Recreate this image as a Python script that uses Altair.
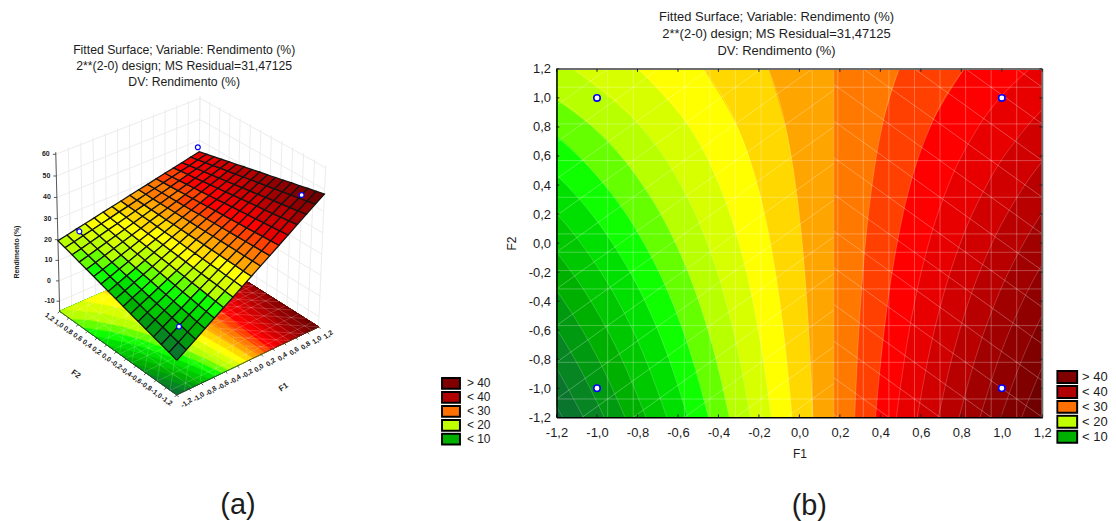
import numpy as np
import pandas as pd
import altair as alt

# ---- values ----
F_TICKS = [-1.2, -1.0, -0.8, -0.6, -0.4, -0.2, 0.0, 0.2, 0.4, 0.6, 0.8, 1.0, 1.2]
Z_TICKS = [-10, 0, 10, 20, 30, 40, 50, 60]
LEGEND_LABELS = ["> 40", "< 40", "< 30", "< 20", "< 10"]
LEGEND_COLORS = ["#800000", "#b00000", "#ff7000", "#c0ff00", "#00b000"]
TITLE_LINES = ["Fitted Surface; Variable: Rendimento (%)", "2**(2-0) design; MS Residual=31,47125", "DV: Rendimento (%)"]

# F1 position of each contour line at these F2 values
F2_GRID = [-1.2, -0.8, -0.4, 0.0, 0.4, 0.8, 1.2]
CONTOURS = [
    [-1.170, -1.342, -1.563, -1.862, -2.283, -2.925, -4.024],
    [-1.067, -1.226, -1.430, -1.706, -2.094, -2.687, -3.701],
    [-0.964, -1.109, -1.296, -1.549, -1.906, -2.449, -3.379],
    [-0.861, -0.993, -1.163, -1.393, -1.717, -2.211, -3.056],
    [-0.758, -0.877, -1.030, -1.237, -1.528, -1.973, -2.733],
    [-0.655, -0.760, -0.896, -1.080, -1.340, -1.735, -2.411],
    [-0.552, -0.644, -0.763, -0.924, -1.151, -1.497, -2.088],
    [-0.449, -0.528, -0.630, -0.768, -0.962, -1.259, -1.766],
    [-0.346, -0.412, -0.497, -0.612, -0.774, -1.021, -1.443],
    [-0.242, -0.295, -0.363, -0.455, -0.585, -0.782, -1.120],
    [-0.139, -0.179, -0.230, -0.299, -0.396, -0.544, -0.798],
    [-0.036, -0.063, -0.097, -0.143, -0.207, -0.306, -0.475],
    [0.067, 0.054, 0.037, 0.014, -0.019, -0.068, -0.153],
    [0.170, 0.170, 0.170, 0.170, 0.170, 0.170, 0.170],
    [0.273, 0.286, 0.303, 0.326, 0.359, 0.408, 0.493],
    [0.376, 0.403, 0.437, 0.483, 0.547, 0.646, 0.815],
    [0.479, 0.519, 0.570, 0.639, 0.736, 0.884, 1.138],
    [0.582, 0.635, 0.703, 0.795, 0.925, 1.122, 1.460],
    [0.686, 0.752, 0.837, 0.952, 1.114, 1.361, 1.783],
    [0.789, 0.868, 0.970, 1.108, 1.302, 1.599, 2.106],
    [0.892, 0.984, 1.103, 1.264, 1.491, 1.837, 2.428],
    [0.995, 1.100, 1.236, 1.420, 1.680, 2.075, 2.751],
    [1.098, 1.217, 1.370, 1.577, 1.868, 2.313, 3.073],
    [1.201, 1.333, 1.503, 1.733, 2.057, 2.551, 3.396],
]
BAND_COLORS = ["#0a6838", "#0a752c", "#068522", "#009a10", "#00b000", "#00c800", "#00e000", "#10ff00",
               "#66ff00", "#b8ff00", "#d8ff00", "#ffff00", "#ffd800", "#ffa500", "#ff7800", "#ff4000",
               "#ff0000", "#e80000", "#d00000", "#b80000", "#a00000", "#900000", "#800000", "#700000", "#600000"]

# surface heights, rows F2 = -1.2 ... 1.2, columns F1 = -1.2 ... 1.2, step 0.15
SURF_F = [-1.2, -1.05, -0.9, -0.75, -0.6, -0.45, -0.3, -0.15, 0.0, 0.15, 0.3, 0.45, 0.6, 0.75, 0.9, 1.05, 1.2]
SURFACE = [
    [1.4, 4.3, 7.2, 10.2, 13.1, 16.0, 18.9, 21.8, 24.7, 27.6, 30.5, 33.4, 36.3, 39.3, 42.2, 45.1, 48.0],
    [2.6, 5.3, 8.1, 10.9, 13.7, 16.5, 19.3, 22.1, 24.8, 27.6, 30.4, 33.2, 36.0, 38.8, 41.6, 44.3, 47.1],
    [3.7, 6.3, 9.0, 11.7, 14.3, 17.0, 19.7, 22.3, 25.0, 27.6, 30.3, 33.0, 35.6, 38.3, 41.0, 43.6, 46.3],
    [4.8, 7.4, 9.9, 12.4, 15.0, 17.5, 20.0, 22.6, 25.1, 27.7, 30.2, 32.7, 35.3, 37.8, 40.4, 42.9, 45.4],
    [5.9, 8.4, 10.8, 13.2, 15.6, 18.0, 20.4, 22.8, 25.3, 27.7, 30.1, 32.5, 34.9, 37.3, 39.8, 42.2, 44.6],
    [7.1, 9.4, 11.6, 13.9, 16.2, 18.5, 20.8, 23.1, 25.4, 27.7, 30.0, 32.3, 34.6, 36.9, 39.2, 41.4, 43.7],
    [8.2, 10.4, 12.5, 14.7, 16.9, 19.0, 21.2, 23.4, 25.5, 27.7, 29.9, 32.0, 34.2, 36.4, 38.5, 40.7, 42.9],
    [9.3, 11.4, 13.4, 15.5, 17.5, 19.6, 21.6, 23.6, 25.7, 27.7, 29.8, 31.8, 33.9, 35.9, 37.9, 40.0, 42.0],
    [10.5, 12.4, 14.3, 16.2, 18.1, 20.1, 22.0, 23.9, 25.8, 27.7, 29.7, 31.6, 33.5, 35.4, 37.3, 39.3, 41.2],
    [11.6, 13.4, 15.2, 17.0, 18.8, 20.6, 22.4, 24.2, 26.0, 27.8, 29.6, 31.4, 33.1, 34.9, 36.7, 38.5, 40.3],
    [12.7, 14.4, 16.1, 17.7, 19.4, 21.1, 22.8, 24.4, 26.1, 27.8, 29.4, 31.1, 32.8, 34.5, 36.1, 37.8, 39.5],
    [13.9, 15.4, 16.9, 18.5, 20.0, 21.6, 23.1, 24.7, 26.2, 27.8, 29.3, 30.9, 32.4, 34.0, 35.5, 37.1, 38.6],
    [15.0, 16.4, 17.8, 19.3, 20.7, 22.1, 23.5, 25.0, 26.4, 27.8, 29.2, 30.7, 32.1, 33.5, 34.9, 36.4, 37.8],
    [16.1, 17.4, 18.7, 20.0, 21.3, 22.6, 23.9, 25.2, 26.5, 27.8, 29.1, 30.4, 31.7, 33.0, 34.3, 35.6, 36.9],
    [17.3, 18.4, 19.6, 20.8, 22.0, 23.1, 24.3, 25.5, 26.7, 27.8, 29.0, 30.2, 31.4, 32.6, 33.7, 34.9, 36.1],
    [18.4, 19.4, 20.5, 21.5, 22.6, 23.6, 24.7, 25.7, 26.8, 27.9, 28.9, 30.0, 31.0, 32.1, 33.1, 34.2, 35.2],
    [19.5, 20.4, 21.4, 22.3, 23.2, 24.2, 25.1, 26.0, 27.0, 27.9, 28.8, 29.8, 30.7, 31.6, 32.5, 33.5, 34.4],
]
# design points: F1, F2, response
POINT_F1 = [-1.0, 1.0, -1.0, 1.0]
POINT_F2 = [-1.0, -1.0, 1.0, 1.0]
POINT_Z = [11.1, 47.0, 24.5, 41.5]

# white mesh of the contour plot
MESH_STEP = 2.4 / 19
MESH_V = [2, 3, 5, 6, 7, 8, 10, 11, 12, 13, 14, 15, 16, 17, 18]
MESH_H = [1, 3, 5, 7, 9, 10, 11, 12, 14, 16, 18]
MESH_C = list(range(-12, 13))
SADDLE = 0.17

# camera of the 3D view: cube/surface corners (F1, F2, z) and where they appear on the page
CAMERA = [
    (-1.2, -1.2, -15, 176, 399), (1.2, -1.2, -15, 318, 327), (-1.2, 1.2, -15, 61, 313), (1.2, 1.2, -15, 197, 252),
    (-1.2, 1.2, 61, 53, 154), (1.2, -1.2, 61, 327, 167), (1.2, 1.2, 61, 201, 97),
    (-1.2, -1.2, 1.4, 177, 357), (1.2, -1.2, 48, 325, 192), (-1.2, 1.2, 19.5, 57, 237), (1.2, 1.2, 34.4, 199, 148),
]
ZMIN, ZMAX = -15, 61

A, b = [], []
for f1, f2, z, px, py in CAMERA:
    A.append([f1, f2, z, 1, 0, 0, 0, 0, -px * f1, -px * f2, -px * z]); b.append(px)
    A.append([0, 0, 0, 0, f1, f2, z, 1, -py * f1, -py * f2, -py * z]); b.append(py)
P = np.linalg.lstsq(np.array(A, float), np.array(b, float), rcond=None)[0]


def proj(f1, f2, z):
    w = P[8] * f1 + P[9] * f2 + P[10] * z + 1
    return (P[0] * f1 + P[1] * f2 + P[2] * z + P[3]) / w, (P[4] * f1 + P[5] * f2 + P[6] * z + P[7]) / w


def clip_f1(poly, lim, keep_greater):
    out = []
    inside = lambda p: p[0] >= lim if keep_greater else p[0] <= lim
    for i, p in enumerate(poly):
        q = poly[(i + 1) % len(poly)]
        if inside(p):
            out.append(p)
        if inside(p) != inside(q):
            t = (lim - p[0]) / (q[0] - p[0])
            out.append((lim, p[1] + t * (q[1] - p[1])))
    return out


def band_color(z):
    return BAND_COLORS[int(np.clip(np.floor((z - 28) / 2) + 14, 0, 24))]


# mesh segments in (F1, F2)
mesh = []
for n in MESH_V:
    v = -1.2 + n * MESH_STEP
    mesh.append((v, -1.2, v, 1.2))
for m in MESH_H:
    v = 1.2 - m * MESH_STEP
    mesh.append((-1.2, v, 1.2, v))
for c in MESH_C:
    cc = (2 * c + 1) * MESH_STEP
    a = max(-1.2, -1.2 - cc)
    e = min(SADDLE, 1.2 - cc)
    if e > a:
        mesh.append((a, a + cc, e, e + cc))
    cf = 2 * c * MESH_STEP
    a = max(SADDLE, cf - 1.2)
    e = min(1.2, cf + 1.2)
    if e > a:
        mesh.append((a, cf - a, e, cf - e))
mesh_df = pd.DataFrame(mesh, columns=["F1", "F2", "F1e", "F2e"])

SX = alt.Scale(domain=[-1.2, 1.2], nice=False, zero=False)
SY = alt.Scale(domain=[-1.2, 1.2], nice=False, zero=False)
PX = alt.Scale(domain=[8, 508], nice=False, zero=False)
PY = alt.Scale(domain=[418, 68], nice=False, zero=False)

FONT = "Liberation Sans"
TXT = "#1c1c1c"
LABEL_EXPR = "replace(replace(format(datum.value,'.1f'),'.',','),'\u2212','-')"


def make_axis(title, label_pad, title_pad):
    return alt.Axis(values=F_TICKS, labelExpr=LABEL_EXPR, title=title, grid=False, tickSize=0, labelFontSize=13,
                    labelFont=FONT, labelColor=TXT, titleFont=FONT, titleFontSize=12, titleFontWeight="normal",
                    titleColor=TXT, labelPadding=label_pad, titlePadding=title_pad, domainColor="black", domainWidth=1.5,
                    labelFlush=False, labelOverlap=False, zindex=1)


AX = make_axis("F1", 9, 9)
AY = make_axis("F2", 6, 10)


def fx():
    return alt.X("F1:Q", scale=SX, axis=AX, stack=None)


def fy():
    return alt.Y("F2:Q", scale=SY, axis=AY)


# ---------- right panel: contour plot ----------
area_rows = [{"b": 0, "F1": -1.2, "F2": f2, "end": 1.2} for f2 in F2_GRID]
line_rows = []
for i, row in enumerate(CONTOURS):
    for f2, f1 in zip(F2_GRID, row):
        area_rows.append({"b": i + 1, "F1": f1, "F2": f2, "end": 1.2})
        line_rows.append({"b": i + 1, "F1": f1, "F2": f2})
area_df = pd.DataFrame(area_rows)
area_df["c"] = [BAND_COLORS[v] for v in area_df["b"]]
bands = alt.Chart(area_df).mark_area(interpolate="monotone", orient="horizontal", clip=True).encode(
    x=fx(), x2="end:Q", y=fy(), fill=alt.Fill("c:N", scale=None), detail="b:N")
contour_lines = alt.Chart(pd.DataFrame(line_rows)).mark_line(
    interpolate="monotone", clip=True, stroke="white", strokeOpacity=0.2, strokeWidth=1).encode(
    x=fx(), y=fy(), detail="b:N", order=alt.Order("F2:Q"))
mesh_right = alt.Chart(mesh_df).mark_rule(stroke="white", strokeOpacity=0.28, strokeWidth=1).encode(
    x=fx(), y=fy(), x2="F1e:Q", y2="F2e:Q")

frame = pd.DataFrame([(-1.2, 1.2, 1.2, 1.2), (1.2, -1.2, 1.2, 1.2)], columns=["F1", "F2", "F1e", "F2e"])
frame_right = alt.Chart(frame).mark_rule(stroke="#6e6e6e", strokeWidth=2).encode(
    x=fx(), y=fy(), x2="F1e:Q", y2="F2e:Q")
tick_rows = []
for t in F_TICKS:
    tick_rows += [(t, -1.2, t, -1.18), (t, 1.2, t, 1.18), (-1.2, t, -1.186, t), (1.2, t, 1.186, t)]
ticks_right = alt.Chart(pd.DataFrame(tick_rows, columns=["F1", "F2", "F1e", "F2e"])).mark_rule(
    stroke="#222222", strokeWidth=1).encode(x=fx(), y=fy(), x2="F1e:Q", y2="F2e:Q")
pts_df = pd.DataFrame({"F1": POINT_F1, "F2": POINT_F2, "z": POINT_Z})
pts_right = alt.Chart(pts_df).mark_point(filled=True, fill="white", stroke="#0000ff", strokeWidth=1.6,
                                         size=42, opacity=1).encode(x=fx(), y=fy())
text_right = alt.Chart(pd.DataFrame({
    "F1": [-0.113, -0.113, -0.113, 0.049], "F2": [1.558, 1.441, 1.324, -1.812],
    "t": TITLE_LINES + ["(b)"], "s": [13, 13, 13, 29]})).mark_text(font=FONT, color=TXT).encode(
    x=fx(), y=fy(), text="t:N", size=alt.Size("s:Q", scale=None))


def legend_layer(x_enc, y_enc, lx, ly, size, clip, lab, offset):
    df = pd.DataFrame({"lab": LEGEND_LABELS, "F1": 0.0, "F2": 0.0, "x": 100.0, "y": 200.0})
    return alt.Chart(df).mark_point(filled=True, opacity=0).encode(
        x=x_enc, y=y_enc,
        color=alt.Color("lab:N", scale=alt.Scale(domain=LEGEND_LABELS, range=LEGEND_COLORS), legend=alt.Legend(
            title=None, orient="none", legendX=lx, legendY=ly, symbolType="M-1,-0.6H1V0.6H-1Z",
            symbolSize=size, symbolOpacity=1, symbolStrokeColor="black", symbolStrokeWidth=2,
            clipHeight=clip, rowPadding=0, labelFontSize=lab, labelFont=FONT, labelColor=TXT, labelOffset=offset)))


right = alt.layer(bands, contour_lines, mesh_right, frame_right, ticks_right, pts_right, text_right,
                  legend_layer(fx(), fy(), 502, 302, 400, 15, 13, 4)).properties(width=488, height=350)

# ---------- left panel: 3D view, projected from (F1, F2, z) ----------
walls = []
for f in F_TICKS:
    walls.append((*proj(f, 1.2, ZMIN), *proj(f, 1.2, ZMAX)))
    walls.append((*proj(1.2, f, ZMIN), *proj(1.2, f, ZMAX)))
for z in Z_TICKS:
    walls.append((*proj(-1.2, 1.2, z), *proj(1.2, 1.2, z)))
    walls.append((*proj(1.2, -1.2, z), *proj(1.2, 1.2, z)))
walls_df = pd.DataFrame(walls, columns=["x", "y", "x2", "y2"])


def rule_layer(df, **kw):
    return alt.Chart(df).mark_rule(**kw).encode(
        x=alt.X("x:Q", scale=PX, axis=None), y=alt.Y("y:Q", scale=PY, axis=None), x2="x2:Q", y2="y2:Q")


poly_rows = []
pid = 0
base_polys = [[(-1.2, -1.2), (1.2, -1.2), (1.2, 1.2), (-1.2, 1.2)]]
base_cols = [BAND_COLORS[0]]
for i, row in enumerate(CONTOURS):
    poly = list(zip(row, F2_GRID)) + [(1.2, 1.2), (1.2, -1.2)]
    poly = clip_f1(clip_f1(poly, -1.2, True), 1.2, False)
    base_polys.append(poly)
    base_cols.append(BAND_COLORS[i + 1])
for poly, col in zip(base_polys, base_cols):
    if len(poly) < 3:
        continue
    pid += 1
    for o, (f1, f2) in enumerate(poly + poly[:1]):
        x, y = proj(f1, f2, ZMIN)
        poly_rows.append({"id": pid, "o": o, "x": x, "y": y, "c": col})
base = alt.Chart(pd.DataFrame(poly_rows)).mark_line(strokeWidth=0.5).encode(
    x=alt.X("x:Q", scale=PX, axis=None), y=alt.Y("y:Q", scale=PY, axis=None),
    detail="id:N", order=alt.Order("o:Q"),
    fill=alt.Fill("c:N", scale=None), stroke=alt.Stroke("c:N", scale=None))

mesh_base_df = pd.DataFrame(
    [(*proj(a, b_, ZMIN), *proj(c, d, ZMIN)) for a, b_, c, d in mesh], columns=["x", "y", "x2", "y2"])
mesh_base = rule_layer(mesh_base_df, stroke="white", strokeOpacity=0.22, strokeWidth=0.8)

cell_rows = []
cid = 0
n = len(SURF_F)
for j in range(n - 2, -1, -1):
    for i in range(n - 1):
        cid += 1
        corners = [(i, j), (i + 1, j), (i + 1, j + 1), (i, j + 1), (i, j)]
        col = band_color(sum(SURFACE[b_][a] for a, b_ in corners[:4]) / 4)
        for o, (a, b_) in enumerate(corners):
            x, y = proj(SURF_F[a], SURF_F[b_], SURFACE[b_][a])
            cell_rows.append({"id": cid, "o": o, "x": x, "y": y, "c": col})
surface = alt.Chart(pd.DataFrame(cell_rows)).mark_line(stroke="#141414", strokeWidth=1.3).encode(
    x=alt.X("x:Q", scale=PX, axis=None), y=alt.Y("y:Q", scale=PY, axis=None),
    detail="id:N", order=alt.Order("o:Q"), fill=alt.Fill("c:N", scale=None))

axes_rows = [(*proj(-1.2, 1.2, ZMIN), *proj(-1.2, 1.2, ZMAX)),
             (*proj(-1.2, 1.2, ZMIN), *proj(-1.2, -1.2, ZMIN)),
             (*proj(-1.2, -1.2, ZMIN), *proj(1.2, -1.2, ZMIN))]
text_rows = []
FMT = lambda v: f"{v:.1f}".replace(".", ",")
for z in Z_TICKS:
    x, y = proj(-1.2, 1.2, z)
    axes_rows.append((x, y, x - 3, y))
    text_rows.append((x - 10, y, str(z), 0, 7))
for f in F_TICKS:
    x, y = proj(-1.2, f, ZMIN)
    axes_rows.append((x, y, x - 2, y + 2))
    text_rows.append((x - 10, y + 6, FMT(f), 35, 7))
    x, y = proj(f, -1.2, ZMIN)
    axes_rows.append((x, y, x + 2, y + 2))
    text_rows.append((x + 10, y + 8, FMT(f), 325, 7))
axes_left = rule_layer(pd.DataFrame(axes_rows, columns=["x", "y", "x2", "y2"]), stroke="#333333", strokeWidth=0.8)

text_rows += [(16, 252, "Rendimento (%)", 270, 7), (75, 375, "F2", 35, 8), (284, 388, "F1", 325, 8)]
big_rows = [(184, 49, TITLE_LINES[0], 0, 12.3), (184, 65, TITLE_LINES[1], 0, 12.3), (184, 81, TITLE_LINES[2], 0, 12.3),
            (238, 506, "(a)", 0, 29)]


def text_layer(rows, **kw):
    return alt.Chart(pd.DataFrame(rows, columns=["x", "y", "t", "a", "s"])).mark_text(font=FONT, color=TXT, **kw).encode(
        x=alt.X("x:Q", scale=PX, axis=None), y=alt.Y("y:Q", scale=PY, axis=None), text="t:N",
        angle=alt.Angle("a:Q", scale=None), size=alt.Size("s:Q", scale=None))


pts3 = [proj(a, b_, z) for a, b_, z in zip(POINT_F1, POINT_F2, POINT_Z)]
pts_left = alt.Chart(pd.DataFrame(pts3, columns=["x", "y"])).mark_point(
    filled=True, fill="white", stroke="#0000ff", strokeWidth=1.2, size=24, opacity=1).encode(
    x=alt.X("x:Q", scale=PX, axis=None), y=alt.Y("y:Q", scale=PY, axis=None))

left = alt.layer(rule_layer(walls_df, stroke="#ececec", strokeWidth=1), base, mesh_base, axes_left, surface, pts_left,
                 text_layer(text_rows, fontWeight="bold"), text_layer(big_rows),
                 legend_layer(alt.X("x:Q", scale=PX, axis=None), alt.Y("y:Q", scale=PY, axis=None), 434, 309, 324, 14, 12, 6)
                 ).properties(width=500, height=350)

chart = alt.hconcat(left, right, spacing=50, bounds="flush", padding={"left": 1, "top": 1, "right": 0, "bottom": 0}
                    ).resolve_scale(color="independent").configure_view(stroke=None).configure_axis(labelOverlap=False)

chart.save("out.html", embed_options={"renderer": "svg", "actions": False})
